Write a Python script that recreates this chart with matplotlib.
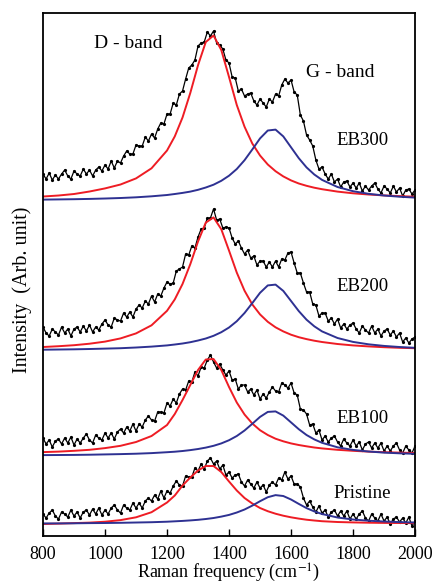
import numpy as np
import matplotlib.pyplot as plt

# Raman shift grid of the measured spectra (cm-1) and of the fitted bands
freq = np.arange(800, 2001, 10)
fit_freq = [800, 850, 900, 950, 1000, 1050, 1100, 1150, 1200, 1225, 1250, 1275,
            1300, 1325, 1350, 1375, 1400, 1425, 1450, 1475, 1500, 1525, 1550,
            1575, 1600, 1625, 1650, 1675, 1700, 1750, 1800, 1850, 1900, 1950, 2000]

# Measured spectra (stacked, arbitrary units)
eb300 = [362, 357, 363, 356, 361, 357, 362, 366, 360, 357, 365, 362, 360, 367, 362, 366, 360, 366, 369, 365,
         371, 367, 375, 368, 375, 373, 380, 385, 382, 382, 391, 390, 390, 399, 395, 402, 398, 407, 413, 412,
         422, 422, 433, 431, 442, 445, 457, 468, 471, 476, 490, 493, 494, 504, 500, 505, 493, 491, 487, 476,
         473, 459, 458, 445, 447, 440, 442, 443, 435, 431, 437, 433, 429, 437, 434, 442, 440, 451, 457, 453,
         456, 444, 441, 421, 415, 401, 396, 390, 376, 367, 369, 362, 357, 362, 354, 357, 349, 354, 355, 349,
         353, 348, 353, 345, 350, 346, 350, 353, 347, 343, 350, 347, 343, 350, 344, 348, 340, 346, 347, 342,
         346]
eb200 = [209, 203, 200, 207, 204, 201, 209, 203, 207, 200, 207, 209, 204, 210, 205, 211, 204, 209, 206, 212,
         216, 211, 209, 218, 216, 215, 223, 219, 224, 219, 227, 231, 228, 235, 232, 240, 234, 242, 240, 248,
         254, 252, 253, 265, 267, 269, 282, 281, 290, 288, 299, 307, 308, 318, 318, 327, 316, 317, 308, 309,
         308, 298, 292, 295, 288, 282, 286, 278, 280, 271, 275, 275, 269, 274, 269, 275, 269, 277, 276, 283,
         284, 273, 263, 263, 253, 244, 244, 232, 231, 220, 223, 223, 215, 218, 212, 217, 208, 212, 207, 211,
         213, 207, 203, 210, 206, 203, 210, 203, 207, 200, 205, 207, 201, 205, 199, 203, 194, 198, 193, 197,
         199]
eb100 = [98, 92, 96, 89, 95, 97, 92, 98, 93, 99, 91, 97, 93, 98, 102, 96, 93, 101, 98, 96,
         103, 98, 103, 97, 104, 107, 103, 109, 105, 112, 105, 112, 109, 116, 120, 116, 115, 124, 124, 123,
         133, 130, 137, 133, 142, 147, 146, 155, 154, 164, 160, 169, 168, 176, 181, 174, 168, 172, 166, 161,
         165, 156, 157, 147, 151, 151, 144, 147, 141, 146, 137, 142, 138, 144, 149, 145, 144, 153, 151, 148,
         153, 143, 141, 127, 126, 122, 111, 112, 103, 106, 96, 100, 94, 98, 100, 94, 90, 97, 93, 90,
         96, 90, 94, 86, 92, 94, 88, 93, 88, 93, 85, 90, 85, 90, 93, 86, 83, 90, 86, 83,
         90]
pristine = [22, 18, 23, 26, 20, 17, 24, 22, 19, 26, 20, 24, 18, 24, 26, 21, 27, 22, 28, 21,
            26, 22, 28, 31, 26, 23, 31, 28, 26, 33, 28, 33, 28, 35, 38, 35, 41, 37, 45, 38,
            45, 43, 50, 55, 51, 50, 60, 59, 59, 68, 65, 72, 67, 75, 78, 72, 75, 67, 71, 61,
            64, 58, 61, 62, 54, 50, 56, 52, 48, 54, 48, 51, 44, 51, 54, 51, 58, 56, 64, 57,
            60, 52, 52, 49, 38, 31, 35, 29, 24, 30, 23, 26, 19, 24, 26, 20, 25, 20, 25, 17,
            22, 17, 22, 25, 18, 15, 22, 18, 15, 22, 15, 19, 12, 17, 19, 14, 18, 13, 19, 10,
            15]

# Lorentzian fits: D band (red) and G band (blue)
d_eb300 = [339.5, 340.5, 342.0, 344.5, 347.6, 351.5, 357.6, 367.7, 385.5, 399.6, 418.5, 443.0,
           470.8, 494.0, 500.5, 486.0, 459.0, 431.0, 409.3, 392.5, 380.5, 371.5, 364.8, 359.6,
           355.6, 352.5, 350.2, 348.3, 346.8, 344.4, 342.7, 341.5, 340.6, 339.9, 339.3]
g_eb300 = [336.4, 336.6, 336.8, 337.1, 337.5, 338.0, 338.7, 339.7, 341.0, 342.0, 343.1, 344.4,
           346.2, 348.5, 351.3, 355.2, 360.3, 367.0, 375.8, 386.5, 397.6, 405.5, 406.4, 399.6,
           388.7, 377.8, 368.6, 361.5, 356.1, 349.0, 344.8, 342.2, 340.5, 339.3, 338.4]
d_eb200 = [189.0, 189.8, 190.8, 192.3, 194.4, 197.6, 202.6, 210.7, 225.2, 236.6, 252.0, 271.8,
           294.5, 313.4, 318.6, 306.8, 285.4, 263.4, 245.3, 231.6, 221.6, 214.2, 208.7, 204.6,
           201.3, 198.8, 196.9, 195.3, 194.0, 192.0, 190.6, 189.6, 188.8, 188.2, 187.8]
g_eb200 = [186.3, 186.5, 186.7, 187.0, 187.4, 187.8, 188.5, 189.4, 190.6, 191.5, 192.5, 193.8,
           195.5, 197.5, 200.2, 203.8, 208.5, 214.8, 223.0, 232.9, 243.2, 250.6, 251.4, 245.1,
           235.0, 224.9, 216.3, 209.7, 204.6, 198.0, 194.1, 191.7, 190.1, 189.0, 188.2]
d_eb100 = [83.9, 84.4, 85.2, 86.2, 87.9, 90.2, 94.0, 100.0, 111.0, 122.0, 136.0, 151.0,
           166.0, 176.5, 177.0, 166.0, 149.0, 133.5, 121.5, 112.5, 105.8, 101.0, 97.3, 94.7,
           92.6, 91.0, 89.7, 88.5, 87.6, 86.2, 85.2, 84.4, 83.8, 83.4, 83.0]
g_eb100 = [80.9, 81.0, 81.1, 81.3, 81.6, 81.9, 82.3, 82.9, 83.8, 84.3, 85.0, 85.9,
           87.0, 88.4, 90.2, 92.6, 95.8, 100.0, 105.5, 112.2, 119.1, 124.1, 124.6, 120.4,
           113.6, 106.8, 101.0, 96.6, 93.2, 88.7, 86.1, 84.5, 83.4, 82.7, 82.2]
d_pristine = [12.0, 12.4, 12.9, 13.4, 14.3, 15.9, 18.7, 23.8, 33.5, 40.5, 50.5, 58.5,
              65.5, 70.0, 70.0, 64.0, 54.5, 45.5, 38.0, 32.5, 28.0, 24.8, 22.3, 20.3,
              18.7, 17.4, 16.3, 15.5, 14.8, 14.0, 13.6, 13.3, 13.1, 13.0, 12.9]
g_pristine = [12.6, 12.6, 12.7, 12.9, 13.0, 13.2, 13.5, 13.8, 14.3, 14.7, 15.1, 15.6,
              16.2, 17.0, 18.0, 19.4, 21.1, 23.5, 26.5, 30.4, 34.8, 38.8, 40.9, 40.0,
              36.5, 32.1, 27.9, 24.6, 22.0, 18.5, 16.5, 15.3, 14.5, 13.9, 13.5]

sample_names = ['EB300', 'EB200', 'EB100', 'Pristine']
name_pos = [(1830, 396), (1830, 250), (1830, 118), (1830, 43)]

plt.rcParams['font.family'] = 'Liberation Serif'
plt.rcParams['mathtext.fontset'] = 'stix'

fig = plt.figure(figsize=(4.36, 5.86), dpi=100)
ax = fig.add_axes([0.0986, 0.0853, 0.8534, 0.8925])

spectra = [eb300, eb200, eb100, pristine]
d_fits = [d_eb300, d_eb200, d_eb100, d_pristine]
g_fits = [g_eb300, g_eb200, g_eb100, g_pristine]

# experimental points as a dense dotted trace, Lorentzian fits drawn on top
for y, d, g in zip(spectra, d_fits, g_fits):
    ax.plot(freq, y, color='black', lw=0.9, marker='o', ms=2.3, mew=0)
    ax.plot(fit_freq, d, color='#ee1c24', lw=1.4)
    ax.plot(fit_freq, g, color='#2e3192', lw=1.4)

for name, (xp, yp) in zip(sample_names, name_pos):
    ax.text(xp, yp, name, fontsize=13.5, ha='center', va='center')

ax.text(1075, 493, 'D - band', fontsize=14, ha='center', va='center')
ax.text(1760, 464, 'G - band', fontsize=14, ha='center', va='center')

ax.set_xlim(800, 2000)
ax.set_ylim(0, 523)
ax.set_xticks(range(800, 2001, 200))
ax.set_yticks([])
ax.tick_params(axis='x', direction='in', length=5, width=1, labelsize=13, pad=7)
for s in ax.spines.values():
    s.set_linewidth(1.3)

ax.set_xlabel('Raman frequency (cm$^{-1}$)', fontsize=13)
ax.xaxis.set_label_coords(0.5, -0.05)
ax.set_ylabel('Intensity  (Arb. unit)', fontsize=14.5)
ax.yaxis.set_label_coords(-0.03, 0.47)

plt.savefig('out.png', dpi=100)
